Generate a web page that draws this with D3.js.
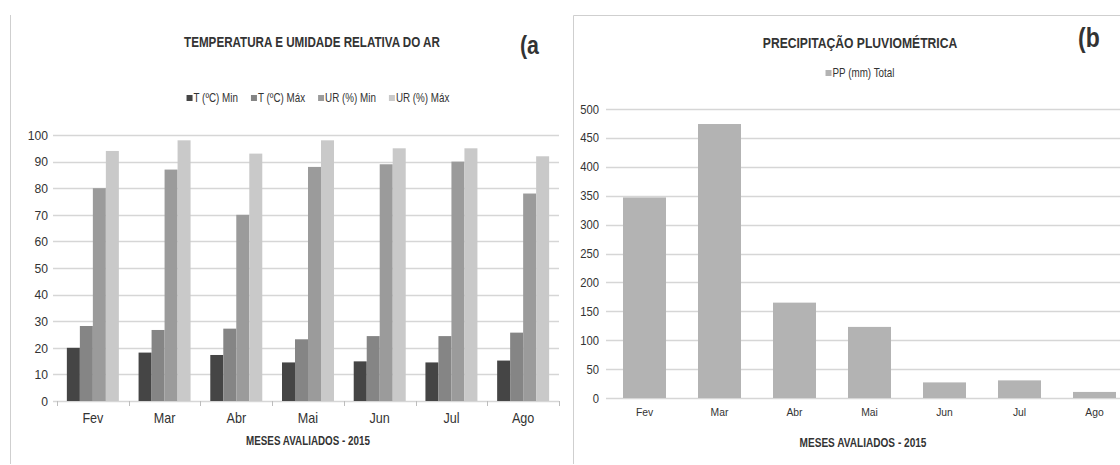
<!DOCTYPE html>
<html>
<head>
<meta charset="utf-8">
<script src="https://cdn.jsdelivr.net/npm/d3@7"></script>
<style>
  body { margin: 0; background: #fff; }
  svg { display: block; }
  text { font-family: "Liberation Sans", Arial, sans-serif; fill: #333; }
</style>
</head>
<body>
<svg id="chart" width="1120" height="465"></svg>
<script>
// values
const months = ["Fev", "Mar", "Abr", "Mai", "Jun", "Jul", "Ago"];
const seriesNames = ["T (ºC) Min", "T (ºC) Máx", "UR (%) Min", "UR (%) Máx"];
const tMin = [20, 18.2, 17.3, 14.5, 14.9, 14.5, 15.2];
const tMax = [28.2, 26.7, 27.2, 23.2, 24.4, 24.4, 25.7];
const urMin = [80, 87, 70, 88, 89, 90, 78];
const urMax = [94, 98, 93, 98, 95, 95, 92];
const ppName = "PP (mm) Total";
const ppTotal = [347, 474, 165, 123, 27, 30.5, 10.5];
const leftTicks = [0, 10, 20, 30, 40, 50, 60, 70, 80, 90, 100];
const rightTicks = [0, 50, 100, 150, 200, 250, 300, 350, 400, 450, 500];

const seriesColors = ["#454545", "#858585", "#9b9b9b", "#c9c9c9"];
const ppColor = "#b3b3b3";
const gridColor = "#d6d6d6";
// no Arial Narrow here, so squeeze Liberation Sans
const squeeze = 0.82;
const tickSqueeze = 0.9;

let svg = d3.select("#chart");

// text in a condensed look, anchored at (x, y)
function label(g, x, y, txt, size, bold, anchor) {
    let t = g.append("text")
        .attr("transform", "translate(" + x + "," + y + ") scale(" + squeeze + ",1)")
        .attr("text-anchor", anchor || "middle")
        .style("font-size", size + "px")
        .text(txt);
    if (bold) t.style("font-weight", "bold").attr("fill", "#222");
    return t;
}

function styleTicks(sel, size) {
    sel.call(g => g.select(".domain").remove())
        .selectAll("text").style("font-size", size + "px").attr("fill", "#333")
        .attr("transform", "scale(" + tickSqueeze + ",1)");
}

// panel frames
svg.append("line").attr("x1", 10.5).attr("x2", 10.5).attr("y1", 15).attr("y2", 464)
    .attr("stroke", "#cfcfcf");
svg.append("path").attr("d", "M573.5,464V15.5H1120")
    .attr("fill", "none").attr("stroke", "#cfcfcf");

function legend(g, names, colors, cx, cy, fontSize) {
    let items = g.append("g");
    let x = 0;
    names.forEach((n, i) => {
        let it = items.append("g").attr("transform", "translate(" + x + ",0)");
        it.append("rect").attr("x", 0).attr("y", -3).attr("width", 6).attr("height", 6)
            .attr("fill", colors[i]);
        let t = label(it, 7, 4, n, fontSize, false, "start");
        x += 7 + t.node().getComputedTextLength() * squeeze + 13;
    });
    x -= 13;
    items.attr("transform", "translate(" + (cx - x / 2) + "," + cy + ")");
}

// ---------- (a) temperature / humidity ----------
let a = svg.append("g");

let x0 = d3.scaleBand().domain(months).range([57, 559]).paddingInner(0.275).paddingOuter(0.1375);
let x1 = d3.scaleBand().domain(seriesNames).range([0, x0.bandwidth()]);
let yA = d3.scaleLinear().domain([0, 100]).range([401, 135]);

a.append("g").selectAll("line").data(leftTicks).join("line")
    .attr("x1", 53).attr("x2", 559)
    .attr("y1", d => Math.round(yA(d)) + 0.5).attr("y2", d => Math.round(yA(d)) + 0.5)
    .attr("stroke", gridColor).attr("stroke-width", 1.4);

a.append("g").attr("transform", "translate(48,0)")
    .call(d3.axisLeft(yA).tickValues(leftTicks).tickSize(0).tickPadding(0))
    .call(styleTicks, 13.5);

let groupData = months.map((m, i) => ({ month: m, vals: [tMin[i], tMax[i], urMin[i], urMax[i]] }));
a.append("g").selectAll("g").data(groupData).join("g")
    .attr("transform", d => "translate(" + x0(d.month) + ",0)")
    .selectAll("rect").data(d => d.vals.map((v, k) => ({ name: seriesNames[k], v: v, k: k })))
    .join("rect")
    .attr("x", d => x1(d.name))
    .attr("width", x1.bandwidth())
    .attr("y", d => yA(d.v))
    .attr("height", d => yA(0) - yA(d.v))
    .attr("fill", d => seriesColors[d.k]);

// category ticks between months
let bounds = months.map(m => x0(m) - x0.step() * x0.paddingInner() / 2);
bounds.push(559);
a.append("g").selectAll("line").data(bounds).join("line")
    .attr("x1", d => Math.round(d) + 0.5).attr("x2", d => Math.round(d) + 0.5)
    .attr("y1", 401).attr("y2", 406).attr("stroke", "#bdbdbd");

a.append("g").attr("transform", "translate(0,413)")
    .call(d3.axisBottom(x0).tickSize(0).tickPadding(0))
    .call(styleTicks, 14);

label(a, 308, 445, "MESES AVALIADOS - 2015", 12, true);
label(a, 312, 47, "TEMPERATURA E UMIDADE RELATIVA DO AR", 14.2, true);
label(a, 520, 54, "(a", 26, true, "start").attr("fill", "#111");

legend(a, seriesNames, seriesColors, 318, 98, 12);

// ---------- (b) rainfall ----------
let b = svg.append("g");

let xB = d3.scaleBand().domain(months).range([607, 1132]).paddingInner(0.427).paddingOuter(0.2135);
let yB = d3.scaleLinear().domain([0, 500]).range([398, 109]);

b.append("g").selectAll("line").data(rightTicks).join("line")
    .attr("x1", 606).attr("x2", 1120)
    .attr("y1", d => Math.round(yB(d)) + 0.5).attr("y2", d => Math.round(yB(d)) + 0.5)
    .attr("stroke", gridColor).attr("stroke-width", 1.4);

b.append("g").attr("transform", "translate(599,0)")
    .call(d3.axisLeft(yB).tickValues(rightTicks).tickSize(0).tickPadding(0))
    .call(styleTicks, 12.5);

b.append("g").selectAll("rect").data(ppTotal).join("rect")
    .attr("x", (d, i) => xB(months[i]))
    .attr("width", xB.bandwidth())
    .attr("y", d => yB(d))
    .attr("height", d => yB(0) - yB(d))
    .attr("fill", ppColor);

b.append("g").attr("transform", "translate(0,408)")
    .call(d3.axisBottom(xB).tickSize(0).tickPadding(0))
    .call(styleTicks, 11.5);

label(b, 863, 447, "MESES AVALIADOS - 2015", 12.3, true);
label(b, 860, 48, "PRECIPITAÇÃO PLUVIOMÉTRICA", 14.8, true);
label(b, 1078, 47, "(b", 28, true, "start").attr("fill", "#111");

legend(b, [ppName], [ppColor], 860, 73, 12);
</script>
</body>
</html>
